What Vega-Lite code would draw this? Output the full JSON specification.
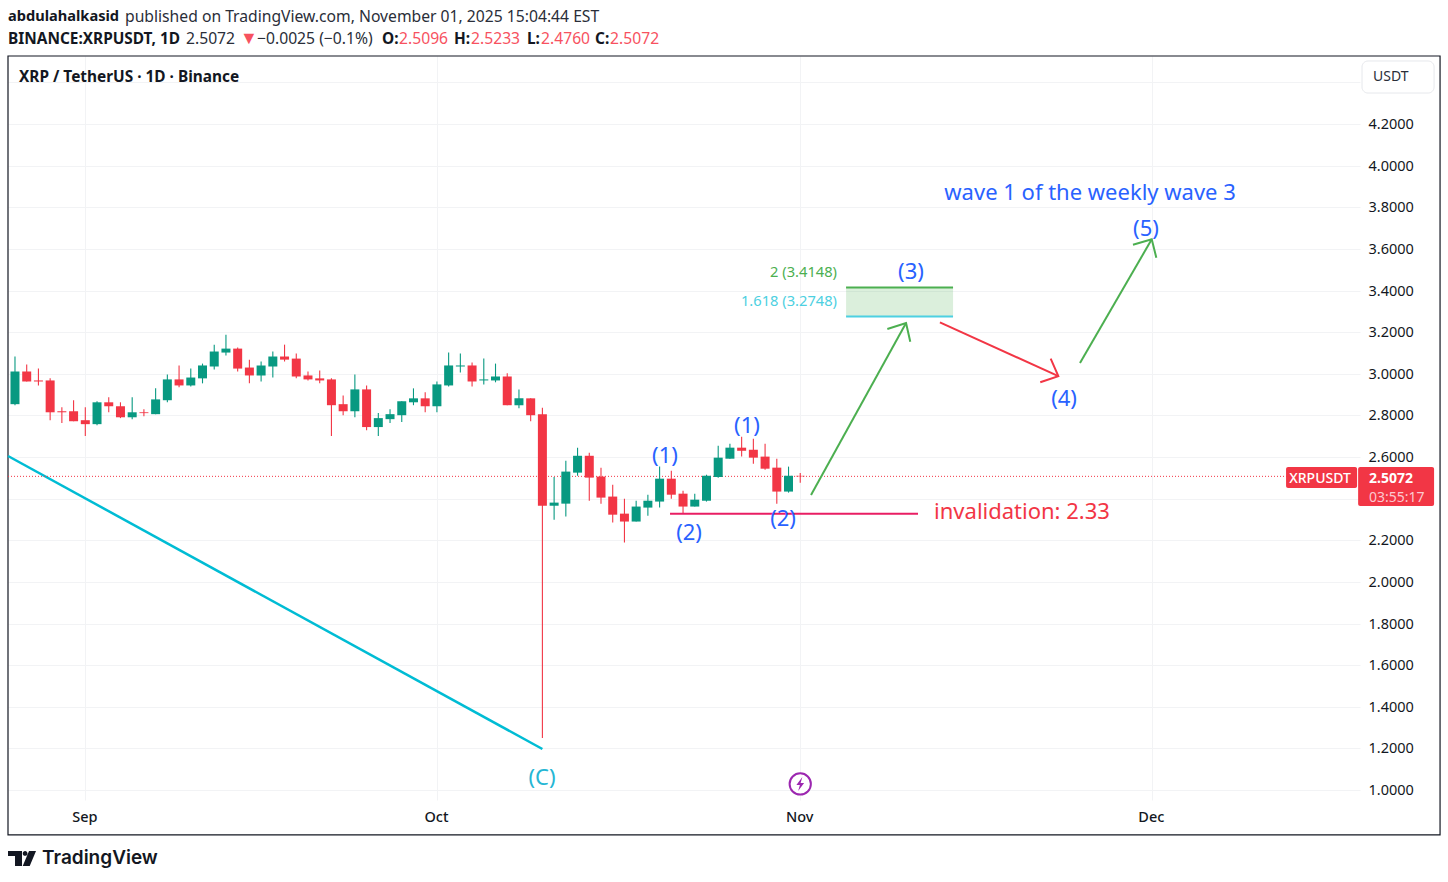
{
  "$schema": "https://vega.github.io/schema/vega-lite/v6.json",
  "width": 1352,
  "height": 744,
  "autosize": "none",
  "padding": {"left": 8, "top": 56, "right": 88, "bottom": 82},
  "background": "#ffffff",
  "config": {
    "view": {"stroke": null},
    "text": {"font": "Noto Sans"},
    "axis": {"labelFont": "Noto Sans", "labelFontSize": 14.5, "labelColor": "#131722", "gridColor": "#f2f3f5", "gridWidth": 1, "domain": false, "ticks": false}
  },
  "datasets": {
    "candles": [
      {"date":"2025-08-26","open":2.854,"high":3.083,"low":2.849,"close":3.011},
      {"date":"2025-08-27","open":3.011,"high":3.045,"low":2.963,"close":2.963},
      {"date":"2025-08-28","open":2.968,"high":3.025,"low":2.944,"close":2.963},
      {"date":"2025-08-29","open":2.968,"high":2.978,"low":2.777,"close":2.815},
      {"date":"2025-08-30","open":2.82,"high":2.839,"low":2.763,"close":2.815},
      {"date":"2025-08-31","open":2.82,"high":2.873,"low":2.772,"close":2.772},
      {"date":"2025-09-01","open":2.777,"high":2.839,"low":2.701,"close":2.758},
      {"date":"2025-09-02","open":2.758,"high":2.868,"low":2.753,"close":2.863},
      {"date":"2025-09-03","open":2.863,"high":2.887,"low":2.815,"close":2.844},
      {"date":"2025-09-04","open":2.844,"high":2.863,"low":2.787,"close":2.791},
      {"date":"2025-09-05","open":2.791,"high":2.887,"low":2.782,"close":2.815},
      {"date":"2025-09-06","open":2.815,"high":2.83,"low":2.796,"close":2.811},
      {"date":"2025-09-07","open":2.806,"high":2.93,"low":2.806,"close":2.877},
      {"date":"2025-09-08","open":2.873,"high":2.997,"low":2.863,"close":2.973},
      {"date":"2025-09-09","open":2.973,"high":3.04,"low":2.935,"close":2.944},
      {"date":"2025-09-10","open":2.944,"high":3.025,"low":2.939,"close":2.982},
      {"date":"2025-09-11","open":2.978,"high":3.049,"low":2.954,"close":3.04},
      {"date":"2025-09-12","open":3.035,"high":3.14,"low":3.021,"close":3.107},
      {"date":"2025-09-13","open":3.102,"high":3.188,"low":3.088,"close":3.121},
      {"date":"2025-09-14","open":3.121,"high":3.126,"low":3.011,"close":3.025},
      {"date":"2025-09-15","open":3.03,"high":3.068,"low":2.954,"close":2.992},
      {"date":"2025-09-16","open":2.992,"high":3.059,"low":2.963,"close":3.04},
      {"date":"2025-09-17","open":3.035,"high":3.107,"low":2.982,"close":3.083},
      {"date":"2025-09-18","open":3.083,"high":3.14,"low":3.059,"close":3.068},
      {"date":"2025-09-19","open":3.073,"high":3.097,"low":2.978,"close":2.987},
      {"date":"2025-09-20","open":2.992,"high":3.011,"low":2.968,"close":2.973},
      {"date":"2025-09-21","open":2.978,"high":3.016,"low":2.954,"close":2.968},
      {"date":"2025-09-22","open":2.973,"high":2.978,"low":2.701,"close":2.849},
      {"date":"2025-09-23","open":2.854,"high":2.896,"low":2.801,"close":2.82},
      {"date":"2025-09-24","open":2.82,"high":2.997,"low":2.791,"close":2.925},
      {"date":"2025-09-25","open":2.925,"high":2.944,"low":2.729,"close":2.744},
      {"date":"2025-09-26","open":2.744,"high":2.811,"low":2.701,"close":2.787},
      {"date":"2025-09-27","open":2.782,"high":2.83,"low":2.763,"close":2.806},
      {"date":"2025-09-28","open":2.801,"high":2.868,"low":2.768,"close":2.868},
      {"date":"2025-09-29","open":2.863,"high":2.93,"low":2.849,"close":2.882},
      {"date":"2025-09-30","open":2.882,"high":2.911,"low":2.815,"close":2.844},
      {"date":"2025-10-01","open":2.844,"high":2.963,"low":2.815,"close":2.949},
      {"date":"2025-10-02","open":2.944,"high":3.102,"low":2.939,"close":3.04},
      {"date":"2025-10-03","open":3.035,"high":3.097,"low":3.006,"close":3.04},
      {"date":"2025-10-04","open":3.04,"high":3.054,"low":2.939,"close":2.963},
      {"date":"2025-10-05","open":2.968,"high":3.073,"low":2.949,"close":2.973},
      {"date":"2025-10-06","open":2.968,"high":3.049,"low":2.959,"close":2.987},
      {"date":"2025-10-07","open":2.987,"high":3.002,"low":2.849,"close":2.849},
      {"date":"2025-10-08","open":2.849,"high":2.925,"low":2.834,"close":2.882},
      {"date":"2025-10-09","open":2.882,"high":2.882,"low":2.772,"close":2.801},
      {"date":"2025-10-10","open":2.805,"high":2.837,"low":1.25,"close":2.366},
      {"date":"2025-10-11","open":2.366,"high":2.504,"low":2.299,"close":2.381},
      {"date":"2025-10-12","open":2.376,"high":2.582,"low":2.314,"close":2.53},
      {"date":"2025-10-13","open":2.525,"high":2.645,"low":2.51,"close":2.606},
      {"date":"2025-10-14","open":2.606,"high":2.621,"low":2.39,"close":2.501},
      {"date":"2025-10-15","open":2.506,"high":2.549,"low":2.376,"close":2.405},
      {"date":"2025-10-16","open":2.41,"high":2.467,"low":2.285,"close":2.323},
      {"date":"2025-10-17","open":2.328,"high":2.4,"low":2.189,"close":2.29},
      {"date":"2025-10-18","open":2.29,"high":2.39,"low":2.29,"close":2.362},
      {"date":"2025-10-19","open":2.357,"high":2.419,"low":2.318,"close":2.39},
      {"date":"2025-10-20","open":2.386,"high":2.554,"low":2.357,"close":2.496},
      {"date":"2025-10-21","open":2.496,"high":2.534,"low":2.4,"close":2.419},
      {"date":"2025-10-22","open":2.424,"high":2.438,"low":2.328,"close":2.362},
      {"date":"2025-10-23","open":2.362,"high":2.424,"low":2.362,"close":2.395},
      {"date":"2025-10-24","open":2.39,"high":2.515,"low":2.386,"close":2.51},
      {"date":"2025-10-25","open":2.504,"high":2.654,"low":2.501,"close":2.597},
      {"date":"2025-10-26","open":2.592,"high":2.664,"low":2.592,"close":2.645},
      {"date":"2025-10-27","open":2.645,"high":2.698,"low":2.602,"close":2.63},
      {"date":"2025-10-28","open":2.635,"high":2.688,"low":2.568,"close":2.597},
      {"date":"2025-10-29","open":2.602,"high":2.664,"low":2.539,"close":2.544},
      {"date":"2025-10-30","open":2.549,"high":2.592,"low":2.376,"close":2.434},
      {"date":"2025-10-31","open":2.434,"high":2.554,"low":2.429,"close":2.51},
      {"date":"2025-11-01","open":2.5096,"high":2.5233,"low":2.476,"close":2.5072}
    ],
    "trend": [
      {"id":"c","kind":"trend","seq":1,"date":"2025-08-25T09:42:00Z","price":2.605},
      {"id":"c","kind":"trend","seq":2,"date":"2025-10-10T00:00:00Z","price":1.197}
    ],
    "lastPrice": [
      {"id":"last","kind":"lastprice","seq":1,"date":"2025-08-25T09:42:00Z","price":2.5072},
      {"id":"last","kind":"lastprice","seq":2,"date":"2025-12-12T12:40:00Z","price":2.5072}
    ],
    "levels": [
      {"id":"inv","kind":"invalid_line","seq":1,"date":"2025-10-20T21:20:00Z","price":2.328},
      {"id":"inv","kind":"invalid_line","seq":2,"date":"2025-11-11T01:10:00Z","price":2.328},
      {"id":"f2","kind":"fib2","seq":1,"date":"2025-11-04T21:50:00Z","price":3.4148},
      {"id":"f2","kind":"fib2","seq":2,"date":"2025-11-14T00:55:00Z","price":3.4148},
      {"id":"f1","kind":"fib1618","seq":1,"date":"2025-11-04T21:50:00Z","price":3.2748},
      {"id":"f1","kind":"fib1618","seq":2,"date":"2025-11-14T00:55:00Z","price":3.2748}
    ],
    "arrows": [
      {"id":"a1","kind":"up","seq":1,"date":"2025-11-01T22:05:00Z","price":2.418},
      {"id":"a1","kind":"up","seq":2,"date":"2025-11-10T00:40:00Z","price":3.244},
      {"id":"a1h","kind":"up","seq":1,"date":"2025-11-08T10:20:00Z","price":3.215},
      {"id":"a1h","kind":"up","seq":2,"date":"2025-11-10T00:40:00Z","price":3.244},
      {"id":"a1h","kind":"up","seq":3,"date":"2025-11-10T09:20:00Z","price":3.154},
      {"id":"a2","kind":"down","seq":1,"date":"2025-11-12T22:00:00Z","price":3.247},
      {"id":"a2","kind":"down","seq":2,"date":"2025-11-23T00:30:00Z","price":2.989},
      {"id":"a2h","kind":"down","seq":1,"date":"2025-11-22T08:50:00Z","price":3.073},
      {"id":"a2h","kind":"down","seq":2,"date":"2025-11-23T00:30:00Z","price":2.989},
      {"id":"a2h","kind":"down","seq":3,"date":"2025-11-21T11:30:00Z","price":2.959},
      {"id":"a3","kind":"up","seq":1,"date":"2025-11-24T20:50:00Z","price":3.052},
      {"id":"a3","kind":"up","seq":2,"date":"2025-11-30T23:45:00Z","price":3.646},
      {"id":"a3h","kind":"up","seq":1,"date":"2025-11-29T09:20:00Z","price":3.62},
      {"id":"a3h","kind":"up","seq":2,"date":"2025-11-30T23:45:00Z","price":3.646},
      {"id":"a3h","kind":"up","seq":3,"date":"2025-12-01T09:10:00Z","price":3.558}
    ],
    "waveLabels": [
      {"label":"(1)","kind":"wave","date":"2025-10-20T11:00:00Z","price":2.61},
      {"label":"(2)","kind":"wave","date":"2025-10-22T12:15:00Z","price":2.24},
      {"label":"(1)","kind":"wave","date":"2025-10-27T11:00:00Z","price":2.754},
      {"label":"(2)","kind":"wave","date":"2025-10-30T12:45:00Z","price":2.307},
      {"label":"(3)","kind":"wave","date":"2025-11-10T10:50:00Z","price":3.494},
      {"label":"(4)","kind":"wave","date":"2025-11-23T12:15:00Z","price":2.884},
      {"label":"(5)","kind":"wave","date":"2025-11-30T12:00:00Z","price":3.701},
      {"label":"(C)","kind":"wavec","date":"2025-10-09T23:15:00Z","price":1.062},
      {"label":"wave 1 of the weekly wave 3","kind":"wave","date":"2025-11-25T17:30:00Z","price":3.874},
      {"label":"invalidation: 2.33","kind":"invalid_text","date":"2025-11-19T22:05:00Z","price":2.341}
    ],
    "fibLabels": [
      {"label":"2 (3.4148)","kind":"fib2","date":"2025-11-04T03:20:00Z","price":3.486},
      {"label":"1.618 (3.2748)","kind":"fib1618","date":"2025-11-04T03:20:00Z","price":3.347}
    ],
    "author": [
      {"label":"abdulahalkasid","date":"2025-08-25T09:42:00Z","price":4.716}
    ],
    "headerBold": [
      {"label":"BINANCE:XRPUSDT, 1D","kind":"ink","date":"2025-08-25T09:42:00Z","price":4.611},
      {"label":"O:","kind":"ink","date":"2025-09-26T07:40:00Z","price":4.611},
      {"label":"H:","kind":"ink","date":"2025-10-02T11:00:00Z","price":4.611},
      {"label":"L:","kind":"ink","date":"2025-10-08T16:30:00Z","price":4.611},
      {"label":"C:","kind":"ink","date":"2025-10-14T11:45:00Z","price":4.611},
      {"label":"XRP / TetherUS · 1D · Binance","kind":"ink","date":"2025-08-26T08:14:00Z","price":4.428}
    ],
    "headerPlain": [
      {"label":"published on TradingView.com, November 01, 2025 15:04:44 EST","kind":"ink","date":"2025-09-04T09:20:00Z","price":4.716},
      {"label":"2.5072","kind":"ink","date":"2025-09-09T14:10:00Z","price":4.611},
      {"label":"−0.0025 (−0.1%)","kind":"ink","date":"2025-09-15T15:36:00Z","price":4.611},
      {"label":"2.5096","kind":"down","date":"2025-09-27T18:25:00Z","price":4.611},
      {"label":"2.5233","kind":"down","date":"2025-10-03T21:50:00Z","price":4.611},
      {"label":"2.4760","kind":"down","date":"2025-10-09T21:10:00Z","price":4.611},
      {"label":"2.5072","kind":"down","date":"2025-10-15T18:30:00Z","price":4.611}
    ],
    "unitLabel": [
      {"label":"USDT","date":"2025-12-19T20:50:00Z","price":4.426}
    ],
    "headerArrow": [
      {"label":"▼","date":"2025-09-14T04:50:00Z","price":4.611}
    ],
    "frame": [
      {"date":"2025-08-25T09:42:00Z","date2":"2025-12-25T14:10:00Z","price":4.527,"price2":0.784}
    ],
    "fibZone": [
      {"date":"2025-11-04T21:50:00Z","date2":"2025-11-14T00:55:00Z","price":3.4148,"price2":3.2748}
    ],
    "unitBox": [
      {"date":"2025-12-18T22:20:00Z","date2":"2025-12-25T01:55:00Z","price":4.503,"price2":4.349}
    ],
    "priceBoxes": [
      {"date":"2025-12-12T10:50:00Z","date2":"2025-12-18T12:15:00Z","price":2.552,"price2":2.451},
      {"date":"2025-12-18T14:25:00Z","date2":"2025-12-25T01:55:00Z","price":2.552,"price2":2.365}
    ],
    "priceBoxText": [
      {"label":"2.5072","date":"2025-12-19T12:45:00Z","price":2.495}
    ],
    "priceBoxSymbol": [
      {"label":"XRPUSDT","date":"2025-12-15T08:25:00Z","price":2.495}
    ],
    "countdown": [
      {"label":"03:55:17","date":"2025-12-19T12:45:00Z","price":2.405}
    ],
    "event": [
      {"date":"2025-11-01T00:00:00Z","price":1.029}
    ],
    "logoMark": [
      {"date":"2025-08-26T14:24:00Z","price":0.671}
    ],
    "logoText": [
      {"label":"TradingView","date":"2025-08-28T07:25:00Z","price":0.673}
    ]
  },
  "encoding": {
    "x": {
      "field": "date",
      "type": "temporal",
      "title": null,
      "scale": {
        "type": "utc",
        "padding": 0,
        "domain": [
          {"year": 2025, "month": 8, "date": 25, "hours": 9, "minutes": 42, "utc": true},
          {"year": 2025, "month": 12, "date": 18, "hours": 18, "minutes": 14, "utc": true}
        ]
      },
      "axis": {"tickCount": "month", "format": "%b", "labelPadding": 10, "labelOffset": -1, "labelFontWeight": 500, "labelFlush": false, "labelOverlap": false}
    },
    "y": {
      "field": "price",
      "type": "quantitative",
      "title": null,
      "scale": {"domain": [0.952, 4.527], "zero": false, "nice": false},
      "axis": {
        "orient": "right",
        "values": [1, 1.2, 1.4, 1.6, 1.8, 2, 2.2, 2.4, 2.6, 2.8, 3, 3.2, 3.4, 3.6, 3.8, 4, 4.2, 4.4],
        "labelExpr": "datum.value > 4.3 || abs(datum.value - 2.4) < 0.01 ? '' : format(datum.value, '.4f')",
        "labelPadding": 8,
        "labelOffset": 0.5,
        "labelOverlap": false
      }
    }
  },
  "layer": [
    {"data": {"name": "frame"}, "mark": {"type": "rect", "fill": null, "stroke": "#131722", "strokeWidth": 1.2}, "encoding": {"x2": {"field": "date2"}, "y2": {"field": "price2"}}},
    {"data": {"name": "trend"}, "mark": {"type": "line", "color": "#00BCD4", "strokeWidth": 2.5}, "encoding": {"order": {"field": "seq"}}},
    {"data": {"name": "lastPrice"}, "mark": {"type": "line", "color": "#F23645", "strokeWidth": 1, "strokeDash": [1, 2]}, "encoding": {"order": {"field": "seq"}}},
    {"data": {"name": "fibZone"}, "mark": {"type": "rect", "color": "#4CAF50", "opacity": 0.2}, "encoding": {"x2": {"field": "date2"}, "y2": {"field": "price2"}}},
    {
      "data": {"name": "candles"},
      "mark": {"type": "rule", "strokeWidth": 1.1},
      "encoding": {
        "y": {"field": "high", "type": "quantitative", "title": null},
        "y2": {"field": "low"},
        "color": {"condition": {"test": "datum.close >= datum.open", "value": "#089981"}, "value": "#F23645"}
      }
    },
    {
      "data": {"name": "candles"},
      "mark": {"type": "bar", "size": 9},
      "encoding": {
        "y": {"field": "open", "type": "quantitative", "title": null},
        "y2": {"field": "close"},
        "color": {"condition": {"test": "datum.close >= datum.open", "value": "#089981"}, "value": "#F23645"}
      }
    },
    {
      "data": {"name": "levels"},
      "mark": {"type": "line", "strokeWidth": 2},
      "encoding": {
        "detail": {"field": "id"},
        "order": {"field": "seq"},
        "color": {"field": "kind", "type": "nominal", "legend": null, "scale": {"domain": ["invalid_line", "fib2", "fib1618"], "range": ["#E91E63", "#4CAF50", "#4DD0E1"]}}
      }
    },
    {"data": {"name": "arrows"}, "transform": [{"filter": "datum.kind == 'up'"}], "mark": {"type": "line", "color": "#4CAF50", "strokeWidth": 2}, "encoding": {"detail": {"field": "id"}, "order": {"field": "seq"}}},
    {"data": {"name": "arrows"}, "transform": [{"filter": "datum.kind == 'down'"}], "mark": {"type": "line", "color": "#F23645", "strokeWidth": 2}, "encoding": {"detail": {"field": "id"}, "order": {"field": "seq"}}},
    {"data": {"name": "waveLabels"}, "transform": [{"filter": "datum.kind == 'wave'"}], "mark": {"type": "text", "color": "#2962FF", "fontSize": 22, "align": "center", "baseline": "middle", "dy": 1}, "encoding": {"text": {"field": "label"}}},
    {"data": {"name": "waveLabels"}, "transform": [{"filter": "datum.kind == 'wavec'"}], "mark": {"type": "text", "color": "#26B6D4", "fontSize": 22, "align": "center", "baseline": "middle", "dy": 1}, "encoding": {"text": {"field": "label"}}},
    {"data": {"name": "waveLabels"}, "transform": [{"filter": "datum.kind == 'invalid_text'"}], "mark": {"type": "text", "color": "#F23645", "fontSize": 22, "align": "center", "baseline": "middle", "dy": 1}, "encoding": {"text": {"field": "label"}}},
    {"data": {"name": "fibLabels"}, "transform": [{"filter": "datum.kind == 'fib2'"}], "mark": {"type": "text", "color": "#4CAF50", "fontSize": 14.7, "align": "right", "baseline": "middle"}, "encoding": {"text": {"field": "label"}}},
    {"data": {"name": "fibLabels"}, "transform": [{"filter": "datum.kind == 'fib1618'"}], "mark": {"type": "text", "color": "#4DD0E1", "fontSize": 14.7, "align": "right", "baseline": "middle"}, "encoding": {"text": {"field": "label"}}},
    {"data": {"name": "event"}, "mark": {"type": "point", "shape": "circle", "size": 452, "filled": false, "color": "#9C27B0", "strokeWidth": 2, "fill": "#ffffff", "fillOpacity": 1}},
    {"data": {"name": "event"}, "mark": {"type": "point", "shape": "M0.3,-1 L-0.55,0.15 L-0.05,0.15 L-0.3,1 L0.55,-0.15 L0.05,-0.15 Z", "size": 196, "filled": true, "color": "#9C27B0", "opacity": 1}},
    {"data": {"name": "unitBox"}, "mark": {"type": "rect", "fill": "#ffffff", "stroke": "#e6e8ec", "cornerRadius": 6}, "encoding": {"x2": {"field": "date2"}, "y2": {"field": "price2"}}},
    {"data": {"name": "priceBoxes"}, "mark": {"type": "rect", "color": "#F23645", "cornerRadius": 2}, "encoding": {"x2": {"field": "date2"}, "y2": {"field": "price2"}}},
    {"data": {"name": "author"}, "mark": {"type": "text", "color": "#131722", "fontSize": 14.6, "fontWeight": "bold", "align": "left", "baseline": "middle"}, "encoding": {"text": {"field": "label"}}},
    {"data": {"name": "headerBold"}, "mark": {"type": "text", "color": "#131722", "fontSize": 15.4, "fontWeight": "bold", "align": "left", "baseline": "middle"}, "encoding": {"text": {"field": "label"}}},
    {"data": {"name": "headerPlain"}, "transform": [{"filter": "datum.kind == 'ink'"}], "mark": {"type": "text", "color": "#2a2e39", "fontSize": 15.7, "align": "left", "baseline": "middle"}, "encoding": {"text": {"field": "label"}}},
    {"data": {"name": "headerPlain"}, "transform": [{"filter": "datum.kind == 'down'"}], "mark": {"type": "text", "color": "#F7525F", "fontSize": 15.7, "align": "left", "baseline": "middle"}, "encoding": {"text": {"field": "label"}}},
    {"data": {"name": "headerArrow"}, "mark": {"type": "text", "color": "#F7525F", "fontSize": 18, "align": "left", "baseline": "middle"}, "encoding": {"text": {"field": "label"}}},
    {"data": {"name": "unitLabel"}, "mark": {"type": "text", "color": "#2a2e39", "fontSize": 14, "align": "left", "baseline": "middle"}, "encoding": {"text": {"field": "label"}}},
    {"data": {"name": "priceBoxSymbol"}, "mark": {"type": "text", "color": "#ffffff", "fontSize": 14, "fontWeight": 500, "align": "center", "baseline": "middle"}, "encoding": {"text": {"field": "label"}}},
    {"data": {"name": "priceBoxText"}, "mark": {"type": "text", "color": "#ffffff", "fontSize": 14, "fontWeight": "bold", "align": "left", "baseline": "middle"}, "encoding": {"text": {"field": "label"}}},
    {"data": {"name": "countdown"}, "mark": {"type": "text", "color": "#fcc9cf", "fontSize": 14, "align": "left", "baseline": "middle"}, "encoding": {"text": {"field": "label"}}},
    {"data": {"name": "logoMark"}, "mark": {"type": "point", "shape": "M-1,-0.536 L0,-0.536 L0,0.536 L-0.5,0.536 L-0.5,-0.18 L-1,-0.18 Z M0.5,-0.536 L1,-0.536 L0.55,0.536 L0.05,0.536 Z M0.05,-0.36 A0.17,0.17 0 1 1 0.39,-0.36 A0.17,0.17 0 1 1 0.05,-0.36 Z", "size": 784, "filled": true, "color": "#131722", "opacity": 1}},
    {"data": {"name": "logoText"}, "mark": {"type": "text", "font": "Inter", "color": "#131722", "fontSize": 19, "fontWeight": 600, "align": "left", "baseline": "middle"}, "encoding": {"text": {"field": "label"}}}
  ]
}
